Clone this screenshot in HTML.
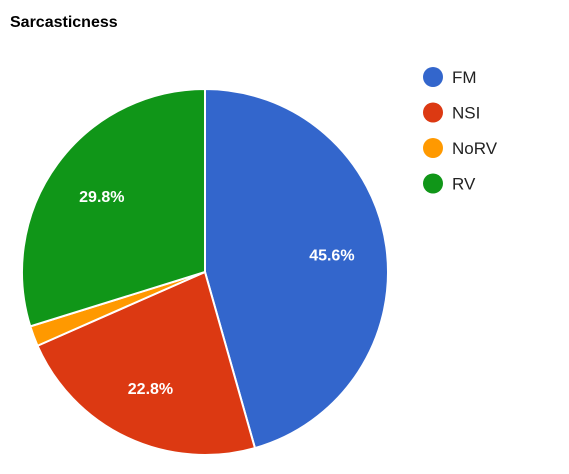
<!DOCTYPE html>
<html><head><meta charset="utf-8"><style>
body{margin:0;background:#fff;width:569px;height:469px;overflow:hidden}
text{font-family:"Liberation Sans",Arial,sans-serif}
</style></head><body>
<svg id="chart" width="569" height="469">
<text x="10" y="27" font-size="16" font-weight="bold" fill="#000">Sarcasticness</text>
<g id="slices"></g><g id="labels"></g><g id="legend"></g>
</svg>
<script>
const categories=["FM","NSI","NoRV","RV"];
const values=[45.6,22.8,1.8,29.8];
const colors=["#3366cc","#dc3912","#ff9900","#109618"];
const cx=205,cy=272,r=183;
const ns="http://www.w3.org/2000/svg";
const total=values.reduce((a,b)=>a+b,0);
let a0=0;
const sg=document.getElementById('slices'),lg=document.getElementById('labels'),leg=document.getElementById('legend');
function pt(a,rr){return [cx+rr*Math.sin(a),cy-rr*Math.cos(a)];}
values.forEach((v,i)=>{
  const a1=a0+v/total*2*Math.PI;
  const p0=pt(a0,r),p1=pt(a1,r);
  const large=(a1-a0)>Math.PI?1:0;
  const p=document.createElementNS(ns,'path');
  p.setAttribute('d',`M${cx},${cy}L${p0[0]},${p0[1]}A${r},${r} 0 ${large} 1 ${p1[0]},${p1[1]}Z`);
  p.setAttribute('fill',colors[i]);p.setAttribute('stroke','#fff');p.setAttribute('stroke-width','2');
  
  
  sg.appendChild(p);
  if(v/total>0.05){
    const m=(a0+a1)/2,lp=pt(m,r*0.7);
    const t=document.createElementNS(ns,'text');
    t.setAttribute('x',lp[0]);t.setAttribute('y',lp[1]+6);t.setAttribute('text-anchor','middle');
    t.setAttribute('font-size','16');t.setAttribute('font-weight','bold');t.setAttribute('fill','#fff');
    t.textContent=v.toFixed(1)+'%';
    
    
    lg.appendChild(t);
  }
  const ly=77+i*35.5;
  const c=document.createElementNS(ns,'circle');
  c.setAttribute('cx',433);c.setAttribute('cy',ly);c.setAttribute('r',10);c.setAttribute('fill',colors[i]);
  
  
  leg.appendChild(c);
  const lt=document.createElementNS(ns,'text');
  lt.setAttribute('x',452);lt.setAttribute('y',ly+6);lt.setAttribute('font-size','17');lt.setAttribute('fill','#222');
  lt.textContent=categories[i];
  
  
  leg.appendChild(lt);
  a0=a1;
});
</script>
</body></html>
